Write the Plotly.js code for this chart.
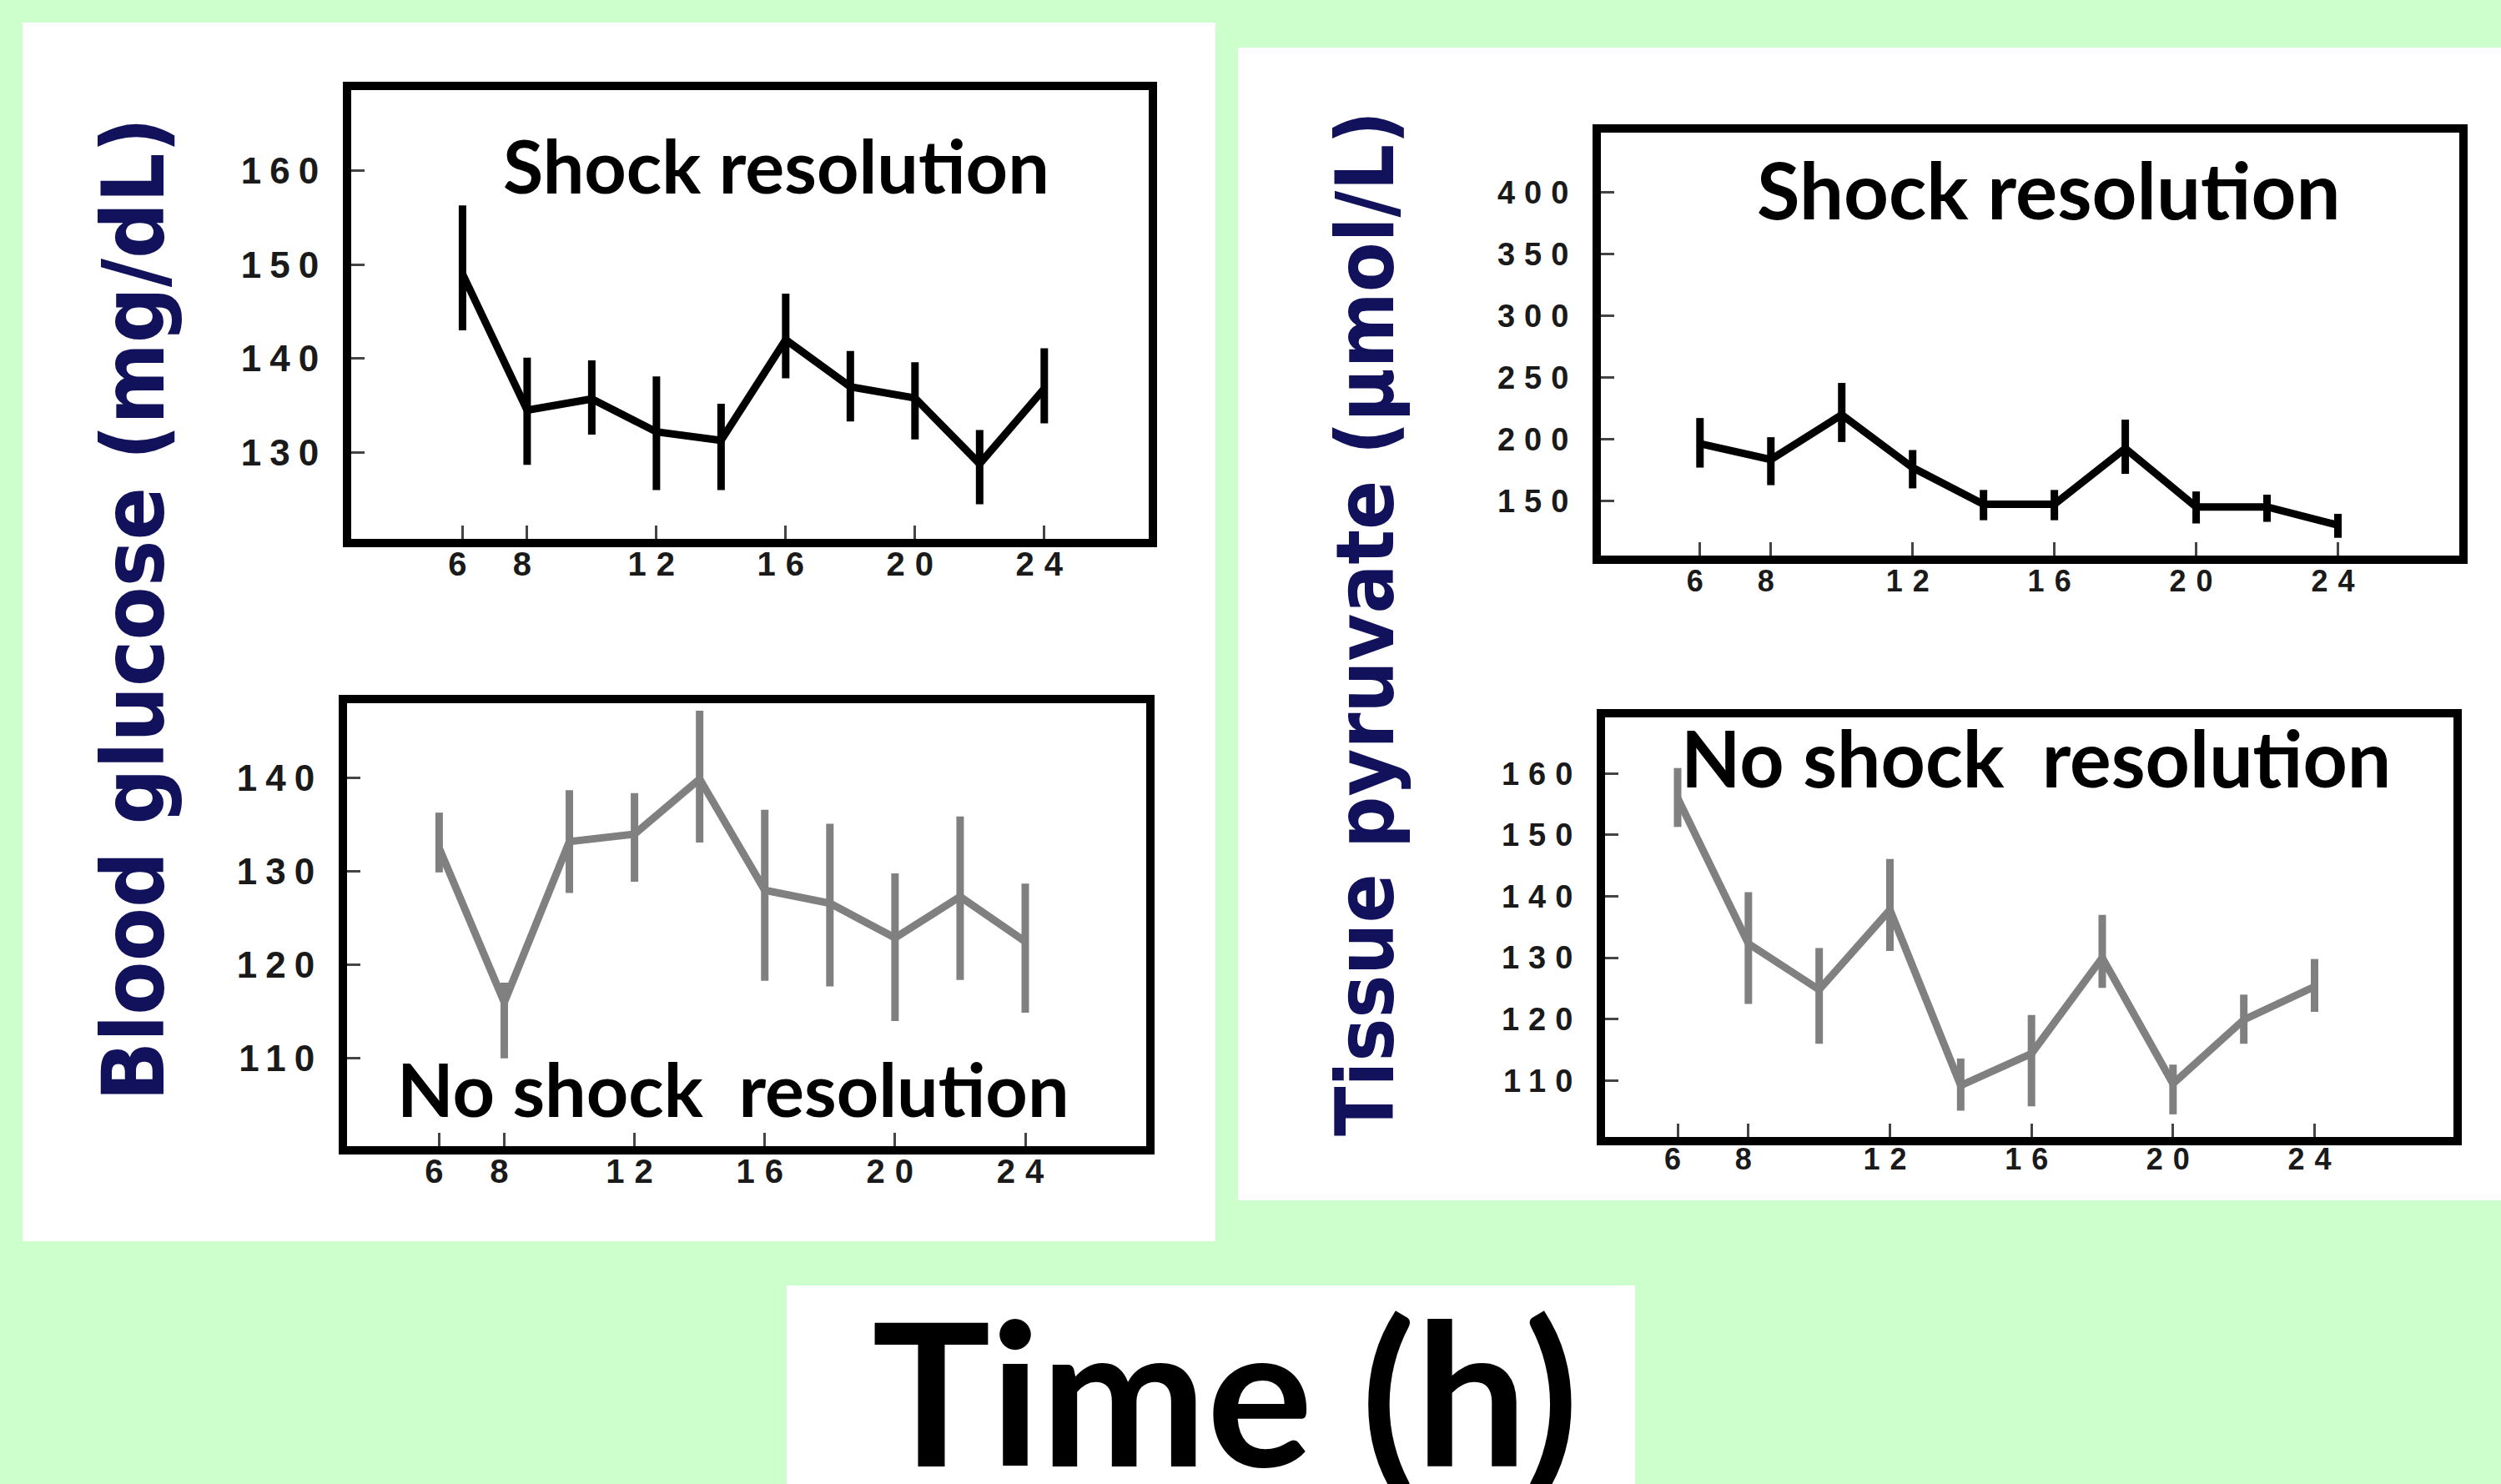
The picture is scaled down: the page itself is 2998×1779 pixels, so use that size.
<!DOCTYPE html>
<html>
<head>
<meta charset="utf-8">
<script src="https://cdn.plot.ly/plotly-3.0.1.min.js"></script>
<style>
  html, body { margin: 0; padding: 0; background: #ccffcc; }
  #chart { width: 2998px; height: 1779px; }
  .xtick text, .x2tick text { letter-spacing: 12px; }
  .ytick text, .y2tick text { letter-spacing: 10px; }
  .x3tick text, .x4tick text { letter-spacing: 12px; }
  .y3tick text, .y4tick text { letter-spacing: 11px; }
</style>
</head>
<body>
<div id="chart"></div>
<script>
// ---------------- data ----------------
const hours = [6, 8, 10, 12, 14, 16, 18, 20, 22, 24];
const xTickVals = [6, 8, 12, 16, 20, 24];

// Blood glucose (mg/dL) – shock resolution
const glucoseShock      = [149, 134.5, 135.7, 132.2, 131.3, 142.0, 137.0, 135.8, 128.8, 136.8];
const glucoseShockUp    = [7.3, 5.6, 4.1, 5.9, 3.9, 4.9, 3.8, 3.8, 3.6, 4.3];
const glucoseShockDown  = [6.0, 5.8, 3.8, 6.2, 5.3, 4.1, 3.7, 4.4, 4.3, 3.7];
// Blood glucose (mg/dL) – no shock resolution
const glucoseNoShock     = [132.5, 116.0, 133.2, 134.0, 139.9, 128.0, 126.6, 122.9, 127.3, 122.5];
const glucoseNoShockUp   = [3.8, 2.1, 5.5, 4.4, 7.3, 8.6, 8.5, 6.9, 8.6, 6.2];
const glucoseNoShockDown = [2.6, 6.0, 5.5, 5.1, 6.8, 9.7, 8.9, 8.9, 8.9, 7.6];
// Tissue pyruvate (µmol/L) – shock resolution
const pyruvateShock      = [196.5, 183.6, 219.8, 177.1, 147.4, 147.4, 192.6, 145.3, 145.3, 130.6];
const pyruvateShockUp    = [20.7, 18.1, 25.8, 14.2, 11.6, 11.6, 23.3, 12.5, 9.9, 9.1];
const pyruvateShockDown  = [19.4, 20.7, 22.0, 16.8, 12.9, 12.9, 20.6, 13.4, 12.1, 10.3];
// Tissue pyruvate (µmol/L) – no shock resolution
const pyruvateNoShock     = [156.0, 132.3, 124.8, 137.8, 109.2, 114.4, 130.0, 109.5, 119.9, 125.3];
const pyruvateNoShockUp   = [4.9, 8.4, 6.8, 8.3, 4.4, 6.3, 7.0, 3.1, 4.1, 4.5];
const pyruvateNoShockDown = [4.7, 9.8, 8.8, 6.7, 4.1, 8.6, 4.9, 5.0, 3.9, 4.1];

const glucoseShockTicks    = [130, 140, 150, 160];
const glucoseNoShockTicks  = [110, 120, 130, 140];
const pyruvateShockTicks   = [150, 200, 250, 300, 350, 400];
const pyruvateNoShockTicks = [110, 120, 130, 140, 150, 160];

const labelShock   = "Shock resolution";
const labelNoShock = "No shock  resolution";
const titleGlucose  = "Blood glucose (mg/dL)";
const titlePyruvate = "Tissue pyruvate (µmol/L)";
const titleTime     = "Time (h)";

// ---------------- layout geometry ----------------
const W = 2998, H = 1779;
const BOX_LW = 10;
const BLACK = "#000000", GREY = "#808080";
const NAVY = "#12125c";

// panel box: measured line centres (px) and two calibration ticks per axis
function panel(box, xcal, ycal) {
  const h = BOX_LW / 2;
  const L = box.l + h, R = box.r - h, T = box.t + h, B = box.b - h;
  const kx = (xcal[3] - xcal[1]) / (xcal[2] - xcal[0]);
  const ky = (ycal[3] - ycal[1]) / (ycal[2] - ycal[0]);
  const xv = p => xcal[0] + (p - xcal[1]) / kx;
  const yv = p => ycal[0] + (p - ycal[1]) / ky;
  return {
    xdomain: [L / W, R / W], xrange: [xv(L), xv(R)],
    ydomain: [1 - B / H, 1 - T / H], yrange: [yv(B), yv(T)]
  };
}
const pA = panel({l: 416, r: 1382, t: 103, b: 651}, [6, 554.4, 24, 1251.8], [160, 204.5, 130, 542.5]);
const pB = panel({l: 411, r: 1379, t: 838, b: 1379}, [6, 526.4, 24, 1229], [140, 932.7, 110, 1268.8]);
const pC = panel({l: 1914, r: 2953, t: 154, b: 671}, [6, 2037.8, 24, 2802.5], [400, 230.3, 150, 600.7]);
const pD = panel({l: 1919, r: 2946, t: 855, b: 1368}, [6, 2011, 24, 2774.5], [160, 927.3, 110, 1295.4]);

function trace(y, up, down, color, xa, ya) {
  return {
    x: hours, y: y, xaxis: xa, yaxis: ya, type: "scatter", mode: "lines",
    line: {color: color, width: 9},
    error_y: {type: "data", symmetric: false, array: up, arrayminus: down,
              color: color, thickness: 9, width: 0},
    hoverinfo: "skip", showlegend: false
  };
}
const data = [
  trace(glucoseShock, glucoseShockUp, glucoseShockDown, BLACK, "x", "y"),
  trace(glucoseNoShock, glucoseNoShockUp, glucoseNoShockDown, GREY, "x2", "y2"),
  trace(pyruvateShock, pyruvateShockUp, pyruvateShockDown, BLACK, "x3", "y3"),
  trace(pyruvateNoShock, pyruvateNoShockUp, pyruvateNoShockDown, GREY, "x4", "y4")
];

const FONT_TICK = "Liberation Sans, Arial, sans-serif";
const xFontLeft  = {family: FONT_TICK, weight: "bold", size: 40, color: "#1a1a1a"};
const yFontLeft  = {family: FONT_TICK, weight: "bold", size: 44, color: "#1a1a1a"};
const xFontRight = {family: FONT_TICK, weight: "bold", size: 36, color: "#1a1a1a"};
const yFontRight = {family: FONT_TICK, weight: "bold", size: 38, color: "#1a1a1a"};

function xAxis(p, font, anchor, standoff) {
  return {
    domain: p.xdomain, range: p.xrange, anchor: anchor,
    tickmode: "array", tickvals: xTickVals, ticktext: xTickVals.map(String),
    ticks: "inside", ticklen: 16, tickwidth: 3, tickcolor: "#444",
    showline: true, linewidth: BOX_LW, linecolor: "#000", mirror: true,
    showgrid: false, zeroline: false, tickfont: font, ticklabelstandoff: standoff,
    fixedrange: true
  };
}
function yAxis(p, ticks, font, anchor) {
  return {
    domain: p.ydomain, range: p.yrange, anchor: anchor,
    tickmode: "array", tickvals: ticks, ticktext: ticks.map(String),
    ticks: "inside", ticklen: 16, tickwidth: 3, tickcolor: "#444",
    showline: true, linewidth: BOX_LW, linecolor: "#000", mirror: true,
    showgrid: false, zeroline: false, tickfont: font, ticklabelstandoff: 10,
    fixedrange: true
  };
}

function label(text, cx, cy, size) {
  return {text: text, xref: "paper", yref: "paper", x: cx / W, y: 1 - cy / H,
          xanchor: "center", yanchor: "middle", showarrow: false,
          font: {family: "Lato, Open Sans, sans-serif", weight: "bold", size: size, color: "#000"}};
}
function yTitle(text, cx, cy, size) {
  return {text: text, xref: "paper", yref: "paper", x: cx / W, y: 1 - cy / H,
          xanchor: "center", yanchor: "middle", showarrow: false, textangle: -90,
          font: {family: "DejaVu Sans Condensed, DejaVu Sans, sans-serif", weight: "bold", size: size, color: NAVY}};
}

const layout = {
  width: W, height: H,
  margin: {l: 0, r: 0, t: 0, b: 0},
  paper_bgcolor: "#ccffcc", plot_bgcolor: "#ffffff",
  showlegend: false,
  xaxis: xAxis(pA, xFontLeft, "y", -14),
  yaxis: yAxis(pA, glucoseShockTicks, yFontLeft, "x"),
  xaxis2: xAxis(pB, xFontLeft, "y2", -14),
  yaxis2: yAxis(pB, glucoseNoShockTicks, yFontLeft, "x2"),
  xaxis3: xAxis(pC, xFontRight, "y3", -10),
  yaxis3: yAxis(pC, pyruvateShockTicks, yFontRight, "x3"),
  xaxis4: xAxis(pD, xFontRight, "y4", -14),
  yaxis4: yAxis(pD, pyruvateNoShockTicks, yFontRight, "x4"),
  shapes: [
    {type: "rect", xref: "paper", yref: "paper", layer: "below",
     x0: 27 / W, x1: 1457 / W, y0: 1 - 1488 / H, y1: 1 - 27 / H,
     fillcolor: "#ffffff", line: {width: 0}},
    {type: "rect", xref: "paper", yref: "paper", layer: "below",
     x0: 1484 / W, x1: 1, y0: 1 - 1439 / H, y1: 1 - 57 / H,
     fillcolor: "#ffffff", line: {width: 0}},
    {type: "rect", xref: "paper", yref: "paper", layer: "below",
     x0: 943 / W, x1: 1960 / W, y0: 0, y1: 1 - 1541 / H,
     fillcolor: "#ffffff", line: {width: 0}}
  ],
  annotations: [
    label(labelShock, 930, 198, 88),
    label(labelNoShock, 879, 1305, 88),
    label(labelShock, 2455, 226, 94),
    label(labelNoShock, 2440, 908, 93),
    yTitle(titleGlucose, 160, 731, 104),
    yTitle(titlePyruvate, 1637, 747, 97),
    label(titleTime, 1468, 1666, 238)
  ]
};

Plotly.newPlot("chart", data, layout, {staticPlot: true, displayModeBar: false});
</script>
</body>
</html>
